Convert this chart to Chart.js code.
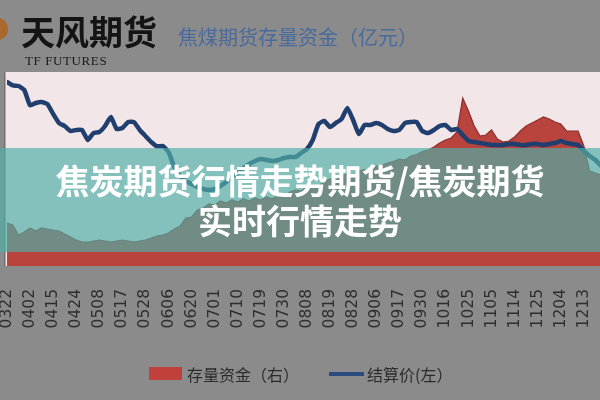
<!DOCTYPE html>
<html><head><meta charset="utf-8">
<script src="https://cdn.jsdelivr.net/npm/chart.js@4"></script>
<style>
html,body{margin:0;padding:0;background:#8b8b8b;}
#wrap{position:relative;width:600px;height:400px;overflow:hidden;background:#8b8b8b;font-family:"Noto Sans CJK SC",sans-serif;}
#c{position:absolute;left:0;top:0;}
.abs{position:absolute;white-space:nowrap;}
.logo{left:-8px;top:18px;width:16px;height:22px;background:#a9692c;border-radius:0 10px 10px 0;}
.brand{left:21px;top:11px;font-size:34px;line-height:40px;font-weight:700;color:#141414;}
.brand-en{left:25px;top:54px;font-family:"Liberation Serif",serif;font-size:13px;line-height:13px;color:#1a1a1a;letter-spacing:0.6px;}
.title{left:178px;top:26px;font-size:20px;line-height:22px;color:#4a6a9c;}
.banner{left:0;top:148px;width:600px;height:104px;background:rgba(80,175,167,0.68);color:#fff;font-weight:700;font-size:34px;line-height:40px;text-align:center;padding-top:12px;box-sizing:border-box;}
.lg-box{left:149px;top:367px;width:33px;height:13px;background:#c0413c;}
.lg-line{left:329px;top:372px;width:35px;height:4px;background:#2a4a80;}
.lg-t{top:364px;font-size:16px;line-height:20px;color:#2b2b2b;}
</style></head><body>
<div id="wrap">
<canvas id="c" width="600" height="400"></canvas>
<div class="abs logo"></div>
<div class="abs brand">天风期货</div>
<div class="abs brand-en">TF FUTURES</div>
<div class="abs title">焦煤期货存量资金（亿元）</div>
<div class="abs banner"><div>焦炭期货行情走势期货/焦炭期货</div><div>实时行情走势</div></div>
<div class="abs lg-box"></div>
<div class="abs lg-t" style="left:187px;">存量资金（右）</div>
<div class="abs lg-line"></div>
<div class="abs lg-t" style="left:367px;">结算价(左）</div>
</div>
<script>
const tickLabels = ['0322','0402','0415','0424','0508','0517','0528','0606','0620','0701','0710','0719','0730','0808','0819','0828','0906','0917','0930','1016','1025','1105','1114','1125','1204','1213'];

// 结算价 (left axis), one value per quarter tick interval
const settlePrice = [
 1570,1560,1558,1546,1500,1507,1510,1504,1474,1447,
 1438,1423,1426,1426,1396,1417,1420,1438,1465,1429,
 1432,1450,1450,1426,1408,1390,1377,1378,1360,1315,
 1288,1273,1264,1255,1249,1246,1249,1258,1270,1285,
 1297,1312,1324,1333,1339,1336,1333,1336,1342,1345,
 1345,1357,1369,1396,1444,1453,1435,1447,1459,1492,
 1456,1414,1441,1441,1447,1441,1429,1423,1426,1447,
 1450,1450,1423,1417,1426,1438,1441,1426,1429,1411,
 1393,1390,1387,1384,1381,1381,1381,1384,1384,1381,
 1381,1384,1384,1381,1384,1387,1393,1387,1384,1381,
 1363,1348,1336,1318];

// 存量资金 (right axis, 亿元)
const fundStock = [
 8.6,8.2,6.2,6.8,7.6,7.0,7.6,7.4,7.2,7.0,
 6.4,5.8,5.2,4.8,4.8,5.0,5.2,5.0,4.8,5.0,
 5.2,5.0,4.8,5.0,5.2,5.6,6.0,6.2,6.6,7.4,
 8.0,9.6,9.8,11.2,11.6,12.4,12.2,13.0,12.6,13.2,
 12.8,13.4,13.0,13.6,13.2,13.8,13.4,14.2,14.0,14.8,
 15.2,15.0,15.8,16.2,16.0,16.9,17.4,17.1,18.0,18.4,
 18.1,19.0,19.3,19.1,20.0,20.2,20.6,20.9,21.4,21.2,
 22.0,22.3,22.9,23.2,23.8,24.6,25.2,25.6,26.8,33.6,
 31.0,28.0,26.0,26.2,27.2,25.4,24.8,25.0,25.8,27.0,
 28.0,28.6,29.2,29.8,29.4,28.8,28.4,27.0,27.0,27.0,
 24.0,19.0,18.6,18.2];

const pointsPerTick = 4;
const pricePts = settlePrice.map((v,i)=>({x:i,y:v}));
const fundPts = fundStock.map((v,i)=>({x:i,y:v}));

const plotBg = {
  id:'plotBg',
  beforeDraw(chart){
    const {ctx, chartArea:a} = chart;
    ctx.save();
    ctx.fillStyle = '#f3e6e8';
    ctx.fillRect(a.left-2, a.top, a.right-a.left+2, a.bottom-a.top);
    ctx.fillStyle = '#707070';
    ctx.fillRect(a.left-3, a.top, 1.5, a.bottom-a.top);
    ctx.restore();
  }
};

new Chart(document.getElementById('c'), {
  type:'line',
  data:{
    datasets:[
      {label:'结算价(左）', data:pricePts, yAxisID:'y', borderColor:'#213f6e', borderWidth:4.5, pointRadius:0, tension:0.15, fill:false, order:0, borderJoinStyle:'round', borderCapStyle:'round'},
      {label:'存量资金（右）', data:fundPts, yAxisID:'y1', borderColor:'#8e2d2b', backgroundColor:'#b9433d', borderWidth:1.2, pointRadius:0, tension:0, fill:'start', order:1}
    ]
  },
  options:{
    responsive:false, animation:false, devicePixelRatio:1,
    layout:{padding:{left:7,right:0,top:72,bottom:0}},
    plugins:{legend:{display:false}, tooltip:{enabled:false}, title:{display:false}},
    scales:{
      x:{type:'linear', min:0, max:102.8,
        grid:{display:false}, border:{display:false},
        ticks:{autoSkip:false, minRotation:90, maxRotation:90, padding:15, color:'#2e2e2e',
          font:{family:'DejaVu Sans', size:15.5},
          callback:(v,idx)=> tickLabels[idx] ?? ''},
        afterBuildTicks:(s)=>{ s.ticks = tickLabels.map((_,k)=>({value:k*pointsPerTick})); },
        afterFit:(s)=>{ s.height = 134; s.paddingLeft = 0; s.paddingRight = 0; }
      },
      y:{display:false, min:1018, max:1600},
      y1:{display:false, position:'right', min:0, max:38.8}
    }
  },
  plugins:[plotBg]
});
</script>
</body></html>
